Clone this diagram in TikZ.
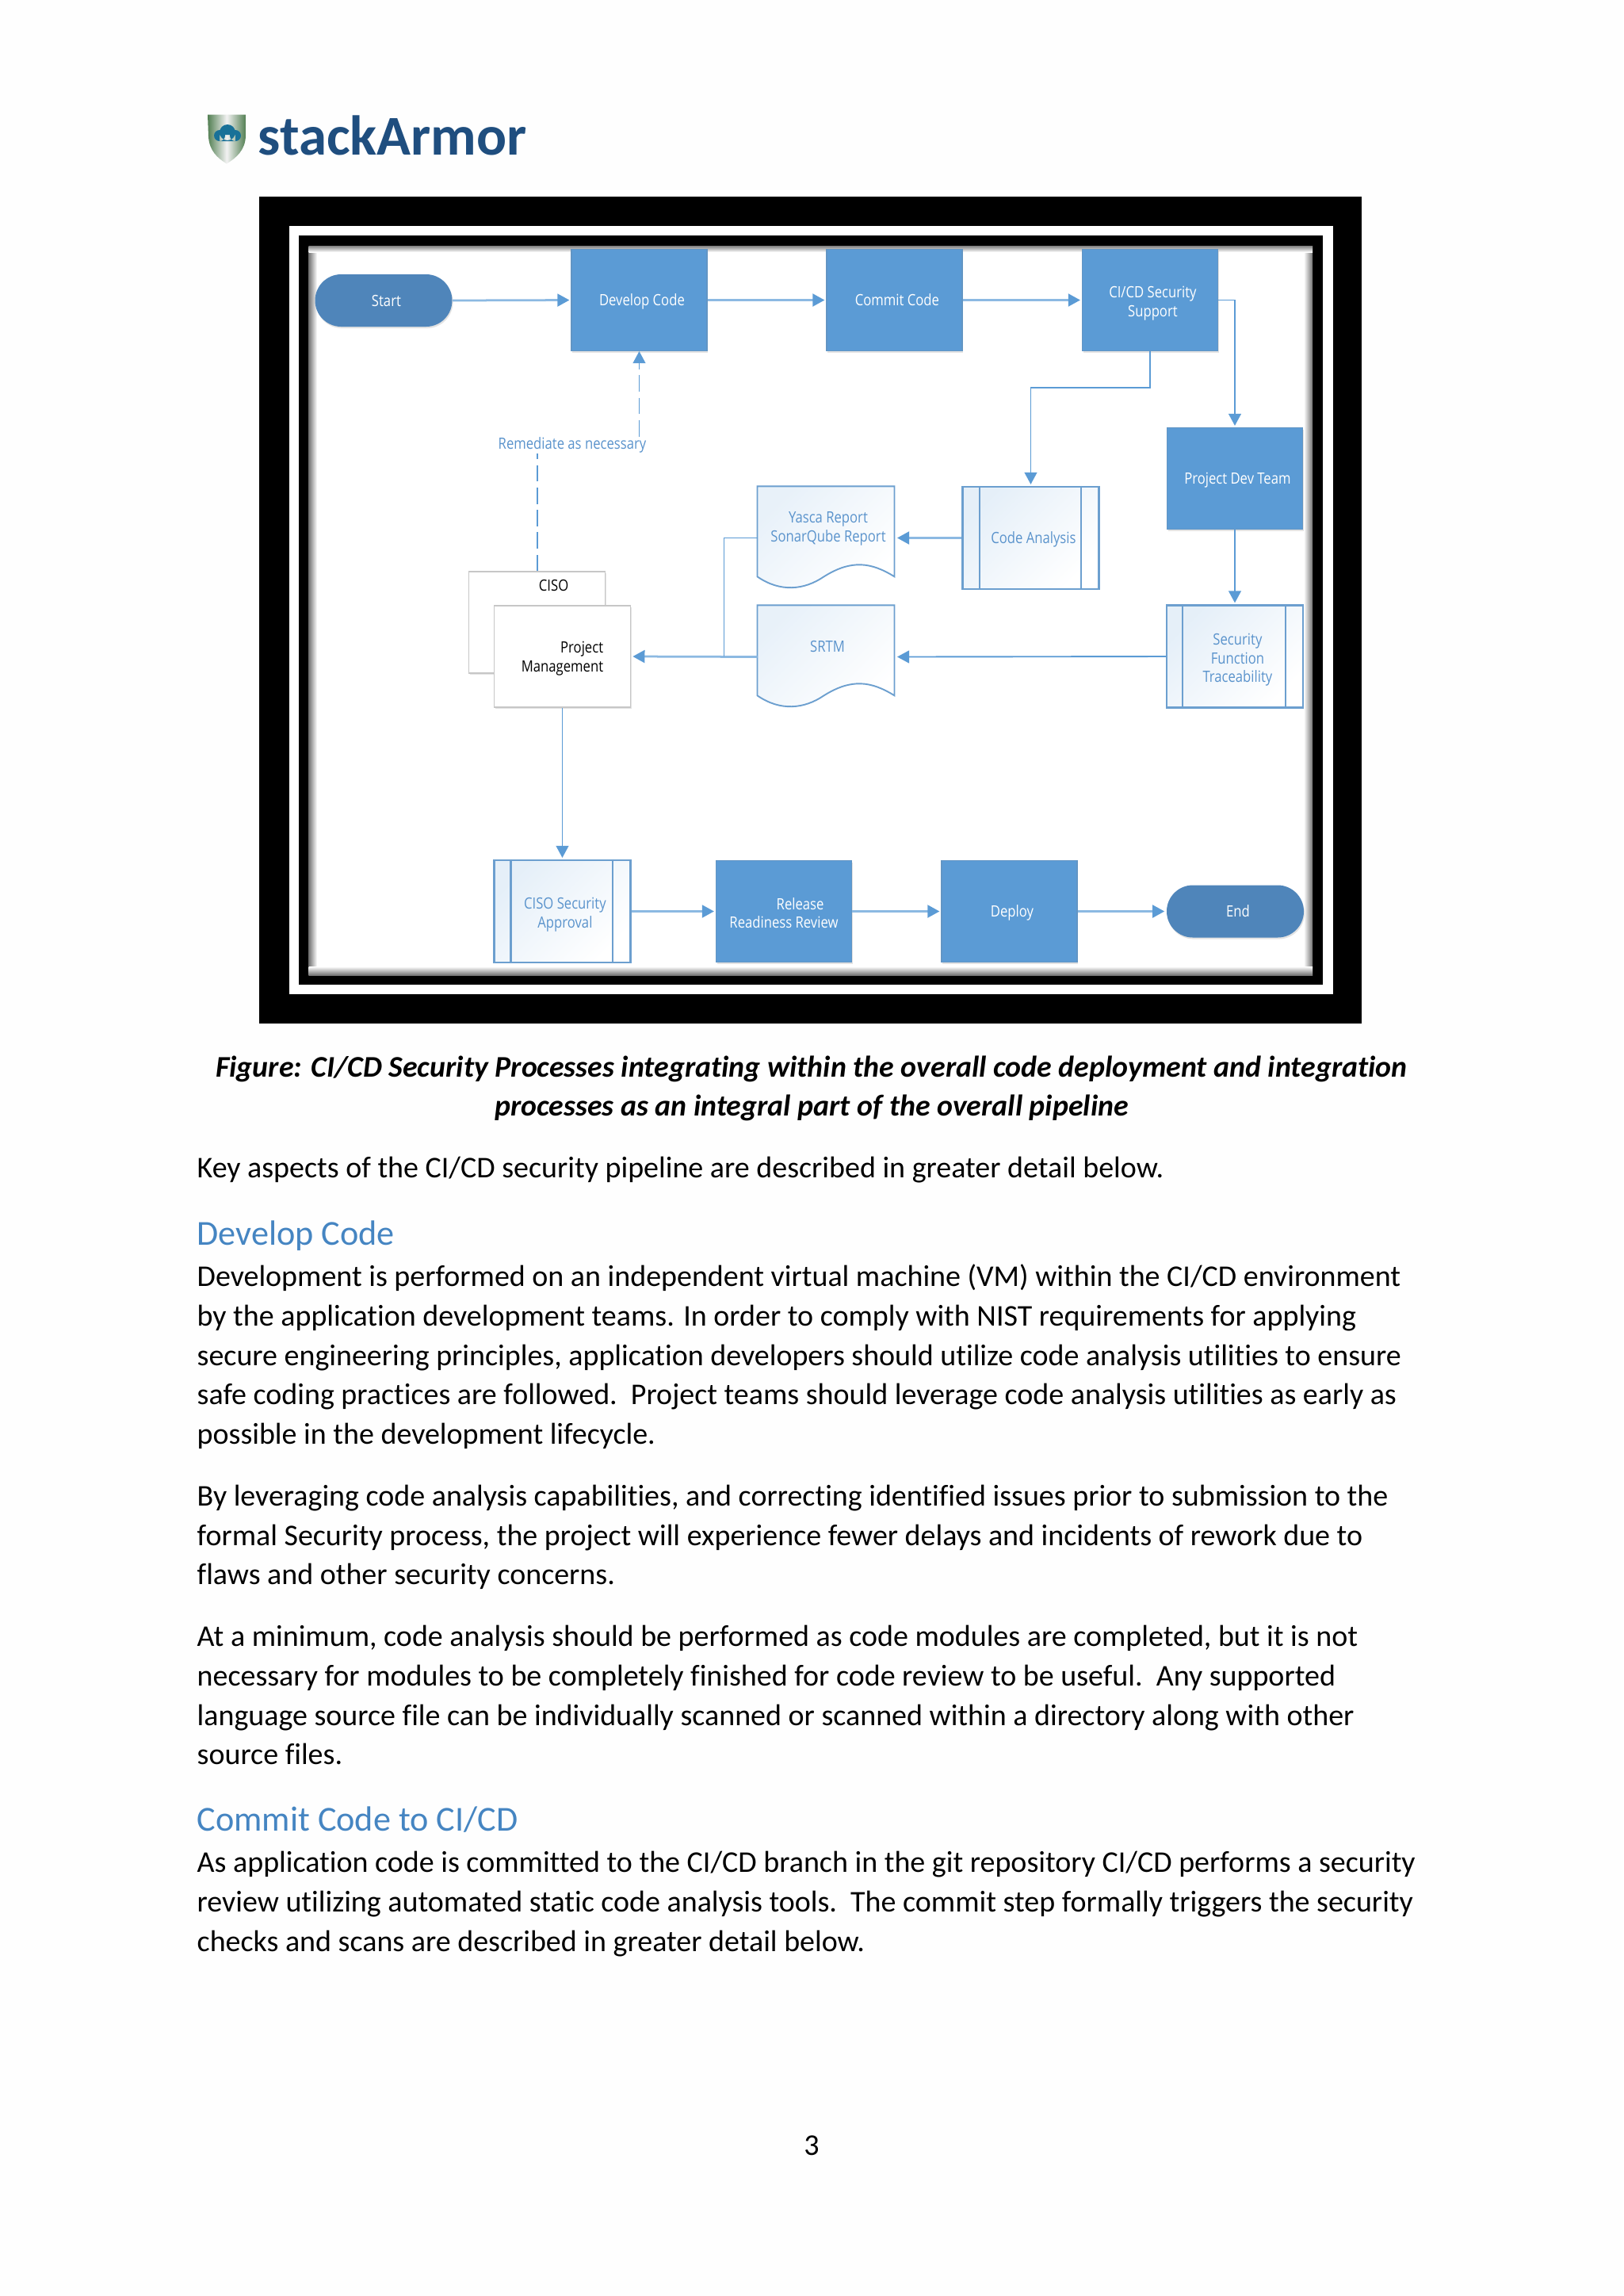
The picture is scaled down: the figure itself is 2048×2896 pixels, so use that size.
\documentclass[tikz,border=0pt]{standalone}
\usepackage{fontspec}
\setmainfont[Ligatures=NoCommon]{Carlito}
\newfontfamily\diafont[FakeStretch=0.85]{Open Sans}
\usetikzlibrary{arrows.meta,shapes.misc,shadows,calc}
\newdimen\pxu \pxu=0.29065pt
\newcommand{\nudge}{\hspace*{2pt}}
\newcommand{\oneline}[1]{\raisebox{0pt}[4.2pt][0pt]{\nudge#1}}
\newcommand{\lowered}[1]{\rule{0pt}{#1}}
\definecolor{flowblue}{HTML}{5B9BD5}
\definecolor{pillblue}{HTML}{4F85BA}
\definecolor{edgeblue}{HTML}{6C9FCF}
\definecolor{labelblue}{HTML}{5A93CC}
\definecolor{headblue}{HTML}{4585C2}
\definecolor{logoblue}{HTML}{1F4E7F}
\tikzset{
  softshadow/.style={drop shadow={shadow xshift=0.3pt,shadow yshift=-0.6pt,opacity=0.22,fill=gray}},
  diatext/.style={font=\diafont\fontsize{5.7}{6.85}\selectfont,align=center,inner sep=0pt},
  boxnode/.style={diatext,rectangle,minimum width=171\pxu,minimum height=128\pxu,fill=flowblue,text=white,draw=flowblue!80!gray,line width=0.3pt,softshadow},
  pillnode/.style={diatext,rounded rectangle,minimum width=173\pxu,minimum height=66\pxu,fill=pillblue,text=white,softshadow},
  procnode/.style={diatext,rectangle,minimum width=172\pxu,minimum height=129\pxu,draw=edgeblue,line width=0.6pt,top color=flowblue!16,bottom color=white,shading angle=45,text=labelblue},
  procline/.style={draw=edgeblue,line width=0.6pt},
  whitenode/.style={diatext,rectangle,minimum width=172\pxu,minimum height=128\pxu,fill=white,draw=black!22,line width=0.45pt,text=black,softshadow},
  docframe/.style={rectangle,minimum width=173\pxu,minimum height=129\pxu,inner sep=0pt},
  docline/.style={draw=edgeblue,line width=0.55pt,top color=flowblue!14,bottom color=white,shading angle=45},
  doctext/.style={diatext,text=labelblue},
  flow/.style={draw=flowblue,line width=0.55pt,-{Triangle[length=4.4pt,width=4.6pt]},shorten >=0.6pt},
  flowthick/.style={draw=flowblue!70,line width=0.8pt,-{Triangle[length=4.4pt,width=4.6pt,color=flowblue]},shorten >=0.6pt},
  plainflow/.style={draw=flowblue,line width=0.55pt},
  dashflow/.style={draw=flowblue,line width=0.5pt,dash pattern=on 6pt off 2.2pt},
  bodyline/.style={anchor=base west,inner sep=0pt,font=\fontsize{11.04}{13.4}\selectfont,text=black},
  headline/.style={anchor=base west,inner sep=0pt,font=\fontsize{12.85}{16}\selectfont,text=headblue},
  capline/.style={anchor=base,inner sep=0pt,font=\bfseries\itshape\fontsize{11}{13.4}\selectfont,text=black},
}
\begin{document}
\begin{tikzpicture}[x=0.29065pt,y=-0.29065pt]
\useasboundingbox (0,0) rectangle (2048,2896);
\fill[white!99.5!black] (0,0) rectangle (2048,2896);
% logo
\path[left color=black!50!green!35!gray,right color=black!50!green!35!gray,middle color=white!90!gray]
  (262,144.5) -- (310,144.5) -- (310,172) .. controls (309,190) and (298,199) .. (286,206.5)
  .. controls (274,199) and (264,190) .. (263,172) -- cycle;
\fill[logoblue!80!cyan] (277,171) circle[radius=7] (297,171) circle[radius=7] (287,167) circle[radius=10] (277,170) rectangle (297,178);
\node[anchor=base west,inner sep=0pt,font=\bfseries\fontsize{20.6}{25}\selectfont,text=logoblue] (logo) at (325,195.5) {stackArmor};
% frames
\fill[black] (327,247.5) rectangle (1718,1291);
\fill[white] (364.5,284.5) rectangle (1681.5,1254);
\fill[black] (377,297) rectangle (1669,1242);
\fill[white] (389.5,310) rectangle (1656,1230);
\shade[left color=black!55,right color=white] (389.5,310) rectangle (400,1230);
\shade[left color=white,right color=black!55] (1645,310) rectangle (1656,1230);
\shade[top color=black!50,bottom color=white] (389.5,310) rectangle (1656,318);
\shade[top color=white,bottom color=black!55] (389.5,1219) rectangle (1656,1230);
% nodes
\node[pillnode] (start) at (484,379) {\oneline{Start}};
\node[boxnode] (dev) at (806.5,378.5) {\oneline{Develop Code}};
\node[boxnode] (commit) at (1128.5,378.5) {\oneline{Commit Code}};
\node[boxnode] (cicd) at (1451,378.5) {\lowered{6.6pt}\nudge CI/CD Security\\\nudge Support};
\node[boxnode] (pdt) at (1558,603.5) {\oneline{Project Dev Team}};
\node[procnode] (ca) at (1300.5,678.5) {\oneline{Code Analysis}};
\node[procnode] (sf) at (1558,828) {\lowered{6.6pt}\nudge Security\\\nudge Function\\\nudge Traceability};
\node[docframe] (yasca) at (1042.7,678.5) {};
\node[docframe] (srtm) at (1042.7,828.5) {};
\draw[docline,shift={(yasca.north west)}] (0,0) -- (173,0) -- (173,114) .. controls (144,96) and (119,92) .. (84,114) .. controls (59,131) and (29,134) .. (0,114) -- cycle;
\draw[docline,shift={(srtm.north west)}] (0,0) -- (173,0) -- (173,114) .. controls (144,96) and (119,92) .. (84,114) .. controls (59,131) and (29,134) .. (0,114) -- cycle;
\node[doctext] (yascat) at (1045,667) {Yasca Report\\SonarQube Report};
\node[doctext] (srtmt) at (1044,815) {SRTM};
\node[whitenode] (ciso) at (677.7,785) {};
\node[diatext,text=black] (cisot) at (698.6,738) {CISO};
\node[whitenode,align=right] (pm) at (709.5,828) {\lowered{5.6pt}Project\\Management};
\node[procnode] (appr) at (709.5,1149.5) {\lowered{6.6pt}\nudge CISO Security\\\nudge Approval};
\node[boxnode] (rel) at (989,1149.5) {\lowered{5.6pt}\hspace*{12pt}Release\\Readiness Review};
\node[boxnode] (dep) at (1273.5,1149.5) {\oneline{Deploy}};
\node[pillnode] (finish) at (1558.5,1149.5) {\oneline{End}};
\node[diatext,text=labelblue] (rem) at (722,561) {Remediate as necessary};
% process side bars
\foreach \n/\l/\r in {ca/22.5/150.5,sf/21/151,appr/22/150.5}{
  \draw[procline] ([xshift=\l\pxu]\n.north west) -- ([xshift=\l\pxu]\n.south west);
  \draw[procline] ([xshift=\r\pxu]\n.north west) -- ([xshift=\r\pxu]\n.south west);
}
% connectors
\draw[flowthick] (start.east) -- (dev.west);
\draw[flowthick] (dev.east) -- (commit.west);
\draw[flowthick] (commit.east) -- (cicd.west);
\draw[flow] (cicd.east) -| (pdt.north);
\draw[flow] (cicd.south) -- ++(0,46) -| (ca.north);
\draw[flow] (pdt.south) -- (sf.north);
\draw[flowthick] (ca.west) -- (yasca.east);
\draw[flow] (sf.west) -- (srtm.east);
\draw[flowthick] (srtm.west) -- (pm.east);
\coordinate (junction) at (913.5,828);
\draw[plainflow] (yasca.west) -| (junction);
\draw[flow] (pm.south) -- (appr.north);
\draw[flowthick] (appr.east) -- (rel.west);
\draw[flowthick] (rel.east) -- (dep.west);
\draw[flowthick] (dep.east) -- (finish.west);
\draw[dashflow] (ciso.north) -- (ciso.north |- rem.south);
\draw[dashflow,-{Triangle[length=4.4pt,width=4.6pt]}] (rem.north -| dev.south) -- (dev.south);
% caption and text
\begin{scope}[yshift=-0.6pt]
\node[capline] (cap1) at (1024,1356.8) {Figure: CI/CD Security Processes integrating within the overall code deployment and integration};
\node[capline] (cap2) at (1024,1405.5) {processes as an integral part of the overall pipeline};
\node[bodyline] (k1) at (248,1483.5) {Key aspects of the CI/CD security pipeline are described in greater detail below.};
\node[headline] (h1) at (248,1568) {Develop Code};
\node[bodyline] (a1) at (248,1620) {Development is performed on an independent virtual machine (VM) within the CI/CD environment};
\node[bodyline] (a2) at (248,1670) {by the application development teams. In order to comply with NIST requirements for applying};
\node[bodyline] (a3) at (248,1720) {secure engineering principles, application developers should utilize code analysis utilities to ensure};
\node[bodyline] (a4) at (248,1769) {safe coding practices are followed.\ \ Project teams should leverage code analysis utilities as early as};
\node[bodyline] (a5) at (248,1819) {possible in the development lifecycle.};
\node[bodyline] (b1) at (248,1897) {By leveraging code analysis capabilities, and correcting identified issues prior to submission to the};
\node[bodyline] (b2) at (248,1947) {formal Security process, the project will experience fewer delays and incidents of rework due to};
\node[bodyline] (b3) at (248,1996) {flaws and other security concerns.};
\node[bodyline] (c1) at (248,2074) {At a minimum, code analysis should be performed as code modules are completed, but it is not};
\node[bodyline] (c2) at (248,2124) {necessary for modules to be completely finished for code review to be useful.\ \ Any supported};
\node[bodyline] (c3) at (248,2174) {language source file can be individually scanned or scanned within a directory along with other};
\node[bodyline] (c4) at (248,2223) {source files.};
\node[headline] (h2) at (248,2307) {Commit Code to CI/CD};
\node[bodyline] (d1) at (248,2359) {As application code is committed to the CI/CD branch in the git repository CI/CD performs a security};
\node[bodyline] (d2) at (248,2409) {review utilizing automated static code analysis tools.\ \ The commit step formally triggers the security};
\node[bodyline] (d3) at (248,2459) {checks and scans are described in greater detail below.};
\node[bodyline,anchor=base] (pg) at (1024,2716) {3};
\end{scope}
\end{tikzpicture}
\end{document}
